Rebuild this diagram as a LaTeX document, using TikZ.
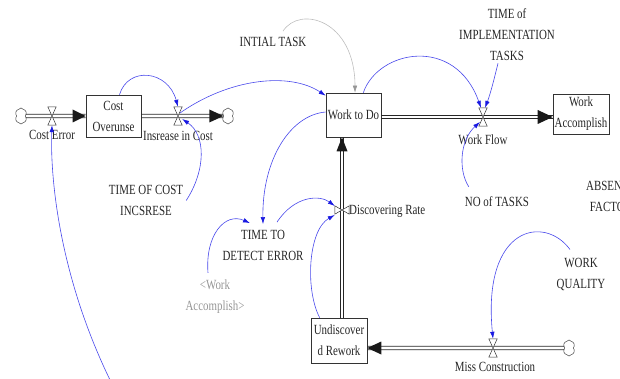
\documentclass[tikz,border=0pt]{standalone}
\usepackage{fontspec}
\setmainfont{Liberation Serif}[FakeStretch=0.78]
\usetikzlibrary{arrows.meta,shapes.symbols,calc}

\definecolor{linkblue}{RGB}{72,72,235}
\definecolor{tipblue}{RGB}{25,25,225}
\definecolor{shadowgrey}{RGB}{150,150,150}
\definecolor{initgrey}{RGB}{190,190,190}

\tikzset{
  lbl/.style={font=\fontsize{14}{21}\selectfont, align=center, inner sep=1pt, text=black!85},
  stock/.style={lbl, draw=black!80, line width=0.6pt, minimum width=55pt, minimum height=42pt},
  pipeline/.style={draw=black!85, line width=0.7pt},
  hvalve/.style={minimum width=8pt, minimum height=18pt, inner sep=0pt},
  vvalve/.style={minimum width=14pt, minimum height=8pt, inner sep=0pt},
  valveline/.style={draw=black!80, fill=white, line width=0.5pt},
  sink/.style={cloud, cloud puffs=6, cloud puff arc=120, draw=black!75, line width=0.5pt,
    minimum width=12pt, minimum height=16pt, inner sep=0pt},
  link/.style={draw=linkblue, line width=0.6pt, -{Latex[length=7pt,width=4.5pt,color=tipblue]}},
  initlink/.style={draw=initgrey, line width=0.6pt, -{Latex[length=7pt,width=4.5pt,color=shadowgrey]}}
}

\begin{document}
\begin{tikzpicture}[x=1pt,y=-1pt]
\useasboundingbox (0,0) rectangle (620,379);
\clip (0,0) rectangle (620,379);

% stocks
\node[stock] (CO) at (113.5,116) {Cost\\Overunse};
\node[stock, minimum height=44pt] (WD) at (353.5,115) {Work to Do};
\node[stock, minimum width=56pt, minimum height=40pt] (WA) at (581,114) {Work\\Accomplish};
\node[stock, minimum width=56pt, minimum height=45pt] (UR) at (339,340.5) {Undiscover\\d Rework};

% sources and sinks
\node[sink] (cA) at (21,116) {};
\node[sink] (cB) at (228,116) {};
\node[sink] (cC) at (569,348) {};

% valve positions
\node[hvalve] (vCE) at (52,116) {};
\node[hvalve] (vIC) at (178,116) {};
\node[hvalve] (vWF) at (483,117) {};
\node[vvalve] (vDR) at (342,210) {};
\node[hvalve] (vMC) at (493,348) {};

% pipe ends on the stock borders
\coordinate (wdOut) at (WD.east |- vWF);
\coordinate (waIn) at (WA.west |- vWF);
\coordinate (urOut) at (UR.north -| vDR);
\coordinate (wdIn) at (WD.south -| vDR);
\coordinate (urIn) at (UR.east |- vMC);

% flow pipes: two parallel walls each
\draw[pipeline] ([yshift=1.8pt]cA.east) -- ([yshift=1.8pt]CO.west)
                ([yshift=-1.8pt]cA.east) -- ([yshift=-1.8pt]CO.west);
\draw[pipeline] ([yshift=1.8pt]CO.east) -- ([yshift=1.8pt]cB.west)
                ([yshift=-1.8pt]CO.east) -- ([yshift=-1.8pt]cB.west);
\draw[pipeline] ([yshift=1.8pt]wdOut) -- ([yshift=1.8pt]waIn)
                ([yshift=-1.8pt]wdOut) -- ([yshift=-1.8pt]waIn);
\draw[pipeline] ([xshift=1.8pt]urOut) -- ([xshift=1.8pt]wdIn)
                ([xshift=-1.8pt]urOut) -- ([xshift=-1.8pt]wdIn);
\draw[pipeline] ([yshift=1.8pt]cC.west) -- ([yshift=1.8pt]urIn)
                ([yshift=-1.8pt]cC.west) -- ([yshift=-1.8pt]urIn);

% pipe heads
\fill[black!90] (CO.west) -- ++(-13,-6.5) -- ++(0,13) -- cycle;
\fill[black!90] (cB.west) -- ++(-14,-6.5) -- ++(0,13) -- cycle;
\fill[black!90] (waIn) -- ++(-15,-7) -- ++(0,14) -- cycle;
\fill[black!90] (urIn) -- ++(14,-6.5) -- ++(0,13) -- cycle;
\fill[black!90] (wdIn) -- ++(-5.5,14) -- ++(11,0) -- cycle;

% valves
\foreach \v in {vCE,vIC,vWF,vMC}{
  \draw[valveline] (\v.north west) -- (\v.north east) -- (\v.center) -- cycle;
  \draw[valveline] (\v.south west) -- (\v.south east) -- (\v.center) -- cycle;
}
\draw[valveline] (vDR.north west) -- (vDR.south west) -- (vDR.center) -- cycle;
\draw[valveline] (vDR.north east) -- (vDR.south east) -- (vDR.center) -- cycle;

% variable names
\node[lbl] (lCE) at (52,135) {Cost Error};
\node[lbl] (lIC) at (178,136) {Insrease in Cost};
\node[lbl] (lTCI) at (146,200.5) {TIME OF COST\\INCSRESE};
\node[lbl] (lIT) at (273,42) {INTIAL TASK};
\node[lbl] (lTI) at (507,35) {TIME of\\IMPLEMENTATION\\TASKS};
\node[lbl] (lWF) at (483,140) {Work Flow};
\node[lbl] (lNT) at (497,202) {NO of TASKS};
\node[lbl] (lAF) at (611,196) {ABSENCE\\FACTOR};
\node[lbl, anchor=west] (lDR) at (348,211) {Discovering Rate};
\node[lbl] (lTT) at (263,245.5) {TIME TO\\DETECT ERROR};
\node[lbl, text=shadowgrey] (lWA) at (215,297) {<Work\\Accomplish>};
\node[lbl] (lWQ) at (581,274) {WORK\\QUALITY};
\node[lbl] (lMC) at (495,367) {Miss Construction};

% causal links
\coordinate (tail) at (113,386);
\draw[link] ($(CO.north)+(6,0)$) .. controls (128,66) and (168,70) .. (vIC.north);
\draw[link] ($(lTCI.east)+(2,0)$) .. controls (206,170) and (206,135) .. ($(vIC.east)+(0,3)$);
\draw[link] ($(vIC.center)+(2,-3)$) .. controls (230,78) and (290,72) .. ($(WD.north west)+(0,3)$);
\draw[initlink] ($(lIT.north)+(10,-5)$) .. controls (300,5) and (355,20) .. ($(WD.north)+(1.5,0)$);
\draw[link] ($(WD.north east)+(-18,0)$) .. controls (378,50) and (455,35) .. ($(vWF.north)+(-2,0)$);
\draw[link] ($(lTI.south)+(-9,1)$) .. controls (494,80) and (490,95) .. ($(vWF.north)+(2,0)$);
\draw[link] ($(lNT.north west)+(5,-9)$) .. controls (458,170) and (460,140) .. ($(vWF.center)+(-3,5)$);
\draw[link] ($(WD.west)+(0,-3)$) .. controls (290,115) and (262,160) .. ($(lTT.north)+(0,-5)$);
\draw[link] ($(lWA.north)+(-7,-6)$) .. controls (205,235) and (225,212) .. ($(lTT.north)+(-13,-6)$);
\draw[link] ($(lTT.north)+(14,-7)$) .. controls (295,195) and (320,195) .. ($(vDR.west)+(0,-4)$);
\draw[link] ($(UR.north west)+(9,0)$) .. controls (305,290) and (308,230) .. ($(vDR.west)+(0,5)$);
\draw[link] ($(lWQ.north)+(-11,-7)$) .. controls (545,215) and (482,225) .. (vMC.north);
\draw[link] (tail) .. controls (60,280) and (50,180) .. (vCE.south);
\end{tikzpicture}
\end{document}
